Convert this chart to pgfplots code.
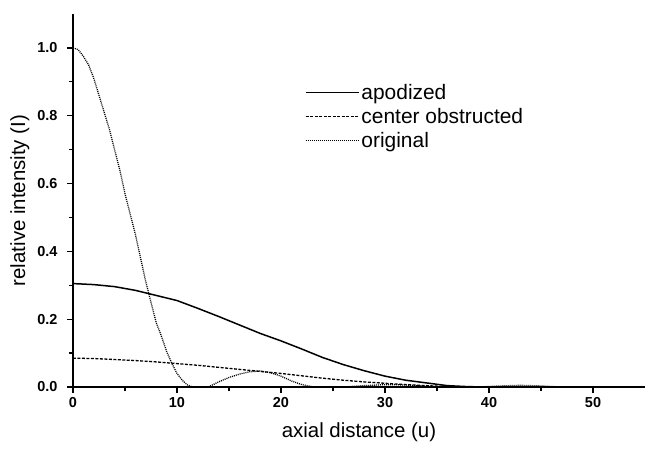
\documentclass[border=0pt]{standalone}
\usepackage{pgfplots}
\pgfplotsset{compat=1.18}
\usepackage{fontspec}
\setmainfont{Liberation Sans}
\begin{document}
\begin{tikzpicture}[x=1bp,y=1bp]
\path (-73bp,-63bp) rectangle (577bp,387bp);
\begin{axis}[
  scale only axis, width=572bp, height=373bp,
  xmin=0, xmax=55, ymin=0, ymax=1.1,
  axis x line*=bottom, axis y line*=left,
  axis line style={line width=1.3pt},
  xtick={0,10,20,30,40,50},
  minor xtick={5,15,25,35,45},
  ytick={0,0.2,0.4,0.6,0.8,1.0},
  minor ytick={0.1,0.3,0.5,0.7,0.9},
  tick align=outside,
  major tick length=6bp, minor tick length=4bp,
  every tick/.style={line width=1.3pt, black},
  /pgf/number format/assume math mode=true,
  yticklabel style={/pgf/number format/fixed,/pgf/number format/fixed zerofill,/pgf/number format/precision=1, font=\fontsize{14.5}{16}\selectfont\bfseries, xshift=-6bp},
  xticklabel style={font=\fontsize{14.5}{16}\selectfont\bfseries, yshift=-1bp},
  xlabel={axial distance (u)},
  ylabel={relative intensity (I)},
  label style={font=\fontsize{20.5}{24}\selectfont},
  xlabel style={at={(axis description cs:0.5,-0.12)}, anchor=center},
  ylabel style={at={(axis description cs:-0.093,0.5)}, anchor=center},
  legend cell align=left,
  legend style={draw=none, fill=none, at={(0.4,0.823)}, anchor=north west,
    font=\fontsize{21}{24}\selectfont, row sep=3.5bp,
    legend image code/.code={\draw[#1] (0bp,0bp) -- (53bp,0bp);}},
]
\addplot[black, line width=1.5pt] coordinates {
(0,0.305) (2,0.302) (4,0.296) (6,0.285) (8,0.27) (10,0.255) (12,0.232) (14,0.208)
(16,0.183) (18,0.158) (20,0.136) (22,0.112) (24,0.087) (26,0.066) (28,0.048)
(30,0.032) (32,0.02) (34,0.012) (36,0.004) (38,0.001) (40,0)
};
\addlegendentry{apodized}
\addplot[black, line width=1.3pt, dash pattern=on 3pt off 1.5pt] coordinates {
(0,0.085) (2,0.084) (4,0.081) (6,0.078) (8,0.074) (10,0.069) (12,0.064) (14,0.058)
(16,0.052) (18,0.046) (20,0.04) (22,0.033) (24,0.026) (26,0.02) (28,0.015)
(30,0.011) (32,0.007) (34,0.004) (36,0.001) (38,0)
};
\addlegendentry{center obstructed}
\addplot[black, line width=1.3pt, dash pattern=on 1pt off 1pt] coordinates {
(0,1.0) (0.5,0.995) (1,0.975) (1.5,0.95) (2,0.91) (2.5,0.86) (3,0.81) (3.5,0.76)
(4,0.70) (4.5,0.64) (5,0.57) (5.5,0.51) (6,0.45) (6.5,0.38) (7,0.31) (7.5,0.25)
(8,0.19) (8.5,0.15) (9,0.105) (9.5,0.07) (10,0.04) (10.5,0.02) (11,0.006) (11.5,0)
(13,0) (14,0.015) (15,0.028) (16,0.038)
(17,0.045) (18,0.047) (19,0.042) (20,0.032) (21,0.018) (22,0.007) (23,0.001)
(24,0) (26,0) (28,0.004) (30,0.007) (32,0.006) (34,0.002) (36,0) (39,0)
(41,0.003) (43,0.005) (45,0.003) (47,0)
};
\addlegendentry{original}
\end{axis}
\end{tikzpicture}
\end{document}
